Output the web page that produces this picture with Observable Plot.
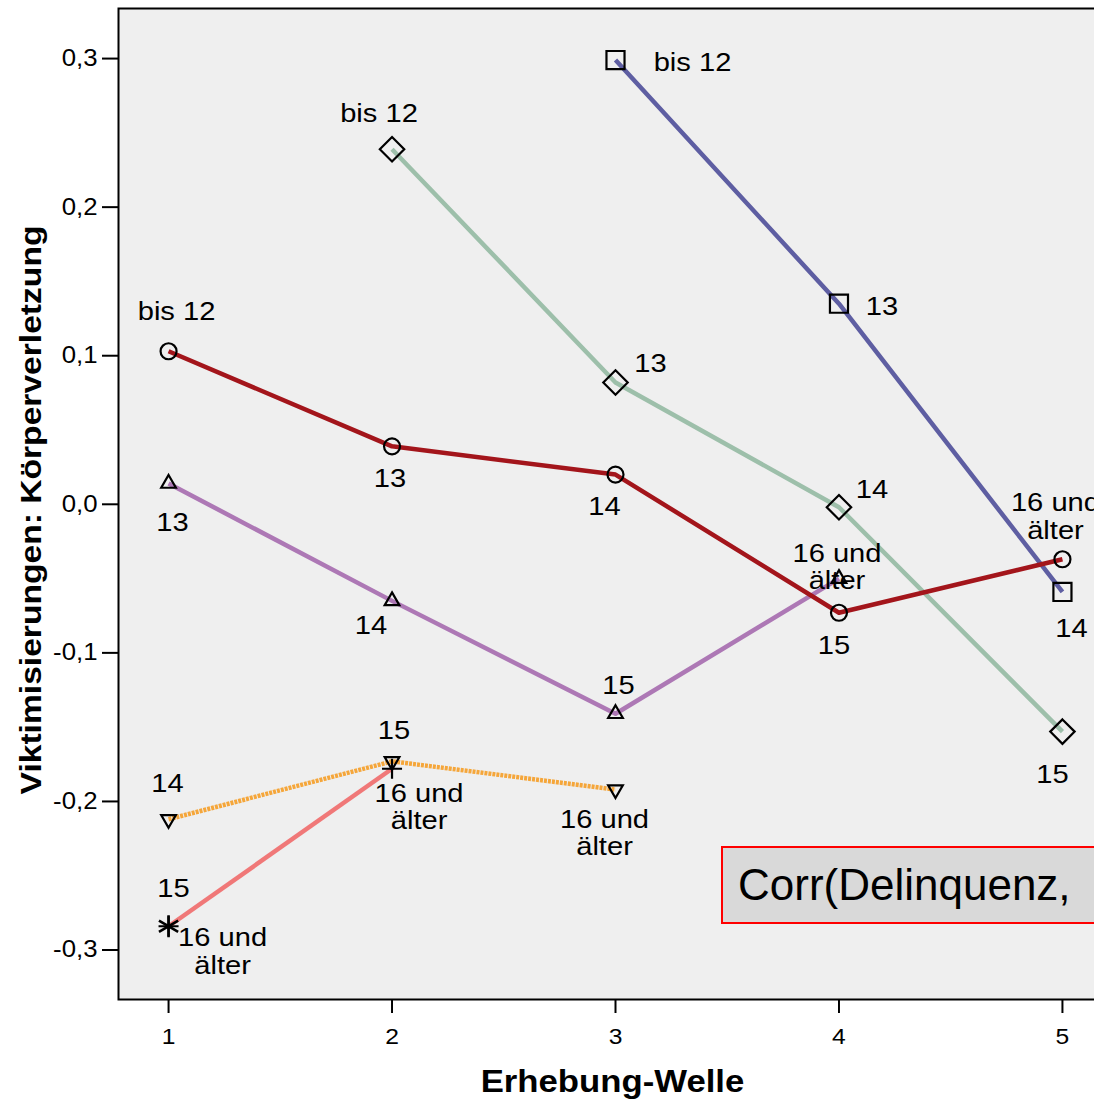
<!DOCTYPE html>
<html><head><meta charset="utf-8">
<script src="https://cdn.jsdelivr.net/npm/d3@7"></script>
<script src="https://cdn.jsdelivr.net/npm/@observablehq/plot@0.6"></script>
<style>
html,body{margin:0;padding:0;overflow:hidden;background:#fff;width:1094px;height:1099px}
#wrap{position:relative;width:1094px;height:1099px;overflow:hidden}
#wrap svg{position:absolute;left:0;top:0;max-width:none !important}
#note{position:absolute;left:721px;top:846px;height:74px;width:520px;background:#d9d9d9;border:2px solid #f00;font:44px "Liberation Sans",Arial,sans-serif;line-height:74px;padding-left:15px;white-space:nowrap}
</style></head><body><div id="wrap"></div>
<script>
// ---- data ----
const yTicks = [-0.3, -0.2, -0.1, 0.0, 0.1, 0.2, 0.3];
const xTicks = [1, 2, 3, 4, 5];
const xTitle = "Erhebung-Welle";
const yTitle = "Viktimisierungen: Körperverletzung";
const noteText = "Corr(Delinquenz,";

// cohort A (dark red, circles)
const redWaves = [1, 2, 3, 4, 5];
const redValues = [0.103, 0.039, 0.020, -0.073, -0.037];
const redLabels = ["bis 12", "13", "14", "15", "16 und\nälter"];
// cohort B (grey-green, diamonds)
const greenWaves = [2, 3, 4, 5];
const greenValues = [0.239, 0.082, -0.002, -0.153];
const greenLabels = ["bis 12", "13", "14", "15"];
// cohort C (navy, squares)
const blueWaves = [3, 4, 5];
const blueValues = [0.299, 0.135, -0.059];
const blueLabels = ["bis 12", "13", "14"];
// cohort D (purple, triangles)
const purpleWaves = [1, 2, 3, 4];
const purpleValues = [0.014, -0.065, -0.141, -0.050];
const purpleLabels = ["13", "14", "15", "16 und\nälter"];
// cohort E (orange, inverted triangles)
const orangeWaves = [1, 2, 3];
const orangeValues = [-0.212, -0.173, -0.192];
const orangeLabels = ["14", "15", "16 und\nälter"];
// cohort F (pink, plus)
const pinkWaves = [1, 2];
const pinkValues = [-0.284, -0.178];
const pinkLabels = ["15", "16 und\nälter"];
// cohort G (single point, asterisk)
const starWaves = [1];
const starValues = [-0.284];
const starLabels = ["16 und\nälter"];

// ---- label offsets (style, px) ----
const redOff = [[8,-40],[-2,32],[-11,32],[-5,32],[-7,-43]];
const greenOff = [[-13,-36],[35,-19],[33,-18],[-10,43]];
const blueOff = [[77,2],[43,3],[9,36]];
const purpleOff = [[4,39],[-21,24],[3,-29],[-2,-12]];
const orangeOff = [[-1,-36],[2,-31],[-11,43]];
const pinkOff = [[5,-38],[27,38]];
const starOff = [[54,25]];

const rows = (w, v, l, off) => w.map((x, i) => ({wave: x, value: v[i], label: l[i], dx: off[i][0], dy: off[i][1]}));
const red = rows(redWaves, redValues, redLabels, redOff);
const green = rows(greenWaves, greenValues, greenLabels, greenOff);
const blue = rows(blueWaves, blueValues, blueLabels, blueOff);
const purple = rows(purpleWaves, purpleValues, purpleLabels, purpleOff);
const orange = rows(orangeWaves, orangeValues, orangeLabels, orangeOff);
const pink = rows(pinkWaves, pinkValues, pinkLabels, pinkOff);
const star = rows(starWaves, starValues, starLabels, starOff);

const triDown = {
  draw(context, size) {
    const s = Math.sqrt(size) * 0.6824, t = s / 2, u = s * Math.sqrt(3) / 2;
    context.moveTo(0, s); context.lineTo(u, -t); context.lineTo(-u, -t); context.closePath();
  }
};

const fmt = d => (d < 0 ? "-" : "") + Math.abs(d).toFixed(1).replace(".", ",");
const font = '"Liberation Sans", Arial, sans-serif';

const lineOpt = {x: "wave", y: "value", strokeWidth: 4.5, strokeLinecap: "butt"};
const dotOpt = {x: "wave", y: "value", stroke: "black", fill: "none", strokeWidth: 2.2};

const labelMarks = [red, green, blue, purple, orange, pink, star].flat().map(r =>
  Plot.text([r], {x: "wave", y: "value", text: "label", dx: r.dx, dy: r.dy, fontSize: 26, lineHeight: 1.05, fill: "black"}));

const chart = Plot.plot({
  width: 1140, height: 1099,
  marginLeft: 118, marginRight: 28, marginTop: 8, marginBottom: 100,
  style: {fontFamily: font, background: "transparent", overflow: "visible", maxWidth: "none"},
  x: {domain: [0.776, 5.224]},
  y: {domain: [-0.3333, 0.3337]},
  marks: [
    Plot.frame({fill: "#efefef"}),
    Plot.axisY({ticks: yTicks, tickFormat: fmt, tickSize: 16, tickPadding: 5, fontSize: 23, label: null, strokeWidth: 2}),
    Plot.axisX({ticks: xTicks, tickFormat: d => String(d), tickSize: 14, tickPadding: 15, fontSize: 22, label: null, strokeWidth: 2}),
    Plot.line(green, {...lineOpt, stroke: "#9dbfaa"}),
    Plot.line(blue, {...lineOpt, stroke: "#5e5ea2"}),
    Plot.line(purple, {...lineOpt, stroke: "#ad78b5"}),
    Plot.line(orange, {...lineOpt, stroke: "#f5a63a", strokeDasharray: "3 1"}),
    Plot.line(pink, {...lineOpt, stroke: "#f07878"}),
    Plot.line(red, {...lineOpt, stroke: "#a3151b"}),
    Plot.dot(red, {...dotOpt, symbol: "circle", r: 8}),
    Plot.dot(green, {...dotOpt, symbol: "diamond2", r: 11}),
    Plot.dot(blue, {...dotOpt, symbol: "square2", r: 11.5}),
    Plot.dot(purple, {...dotOpt, symbol: "triangle2", r: 7}),
    Plot.dot(orange, {...dotOpt, symbol: triDown, r: 7}),
    Plot.dot(pink, {...dotOpt, symbol: "plus", r: 6.5}),
    Plot.dot(star, {...dotOpt, symbol: "asterisk", r: 10.5, strokeWidth: 2.6}),
    ...labelMarks,
    Plot.frame({stroke: "black", strokeWidth: 2}),
    Plot.text([yTitle], {frameAnchor: "left", textAnchor: "middle", lineAnchor: "middle", dx: -87, dy: 6, rotate: -90, fontSize: 30, fontWeight: "bold", fill: "black"}),
    Plot.text([xTitle], {frameAnchor: "bottom", textAnchor: "middle", lineAnchor: "middle", dy: 83, dx: -3, fontSize: 31, fontWeight: "bold", fill: "black"})
  ]
});

const wrap = document.getElementById("wrap");
wrap.appendChild(chart);

// widen glyphs horizontally (reference font renders wider than Arial)
const SX = 1.12;
chart.querySelectorAll("text").forEach(t => {
  const spans = t.querySelectorAll("tspan");
  const els = spans.length ? [...spans] : [t];
  els.forEach(e => {
    const L = e.getComputedTextLength();
    if (L > 0) {
      e.setAttribute("textLength", (L * SX).toFixed(2));
      e.setAttribute("lengthAdjust", "spacingAndGlyphs");
    }
  });
});

const note = document.createElement("div");
note.id = "note";
note.textContent = noteText;
wrap.appendChild(note);
</script></body></html>
